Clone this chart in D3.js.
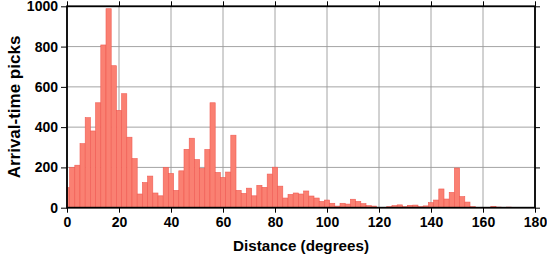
<!DOCTYPE html>
<html><head><meta charset="utf-8">
<script src="https://cdn.jsdelivr.net/npm/d3@7"></script>
<style>body{margin:0;background:#fff}svg{display:block}</style>
</head><body>
<svg id="c" width="547" height="258"></svg>
<script>
// Bin centres (degrees), bin width 2 degrees
const binCenters = d3.range(0, 181, 2);
const counts = [100,200,211,318,447,381,521,808,988,705,
  483,566,350,244,68,125,157,73,59,200,
  170,86,183,290,345,239,195,289,521,175,
  150,177,360,86,71,97,59,111,101,167,
  201,107,48,66,73,68,83,58,48,31,
  38,22,8,22,18,42,31,20,10,8,
  0,2,5,10,14,5,12,13,5,9,
  25,38,93,43,76,197,55,28,5,0,
  0,2,7,3,0,3,0,0,0,0,0];
const xTicks = [0,20,40,60,80,100,120,140,160,180];
const yTicks = [0,200,400,600,800,1000];
const binWidth = 2;

const svg = d3.select('#c');
const L = 67, R = 535, T = 6.3, B = 207.7;
const x = d3.scaleLinear().domain([0,180]).range([L,R]);
const y = d3.scaleLinear().domain([0,1000]).range([B,T]);
const font = '"Liberation Sans", Arial, Helvetica, sans-serif';

// grid
const g = svg.append('g');
g.selectAll('.gx').data(xTicks).join('line')
  .attr('x1', d=>x(d)).attr('x2', d=>x(d)).attr('y1', T).attr('y2', B)
  .attr('stroke', '#9a9a9a').attr('stroke-width', 0.9);
g.selectAll('.gy').data(yTicks).join('line')
  .attr('x1', L).attr('x2', R).attr('y1', d=>y(d)).attr('y2', d=>y(d))
  .attr('stroke', '#9a9a9a').attr('stroke-width', 0.9);

// bars
const bins = binCenters.map((c,i)=>({x0:Math.max(0,c-binWidth/2), x1:Math.min(180,c+binWidth/2), v:counts[i]}));
svg.append('g').selectAll('rect').data(bins.filter(d=>d.v>0)).join('rect')
  .attr('x', d=>x(d.x0)).attr('width', d=>x(d.x1)-x(d.x0))
  .attr('y', d=>y(d.v)).attr('height', d=>y(0)-y(d.v))
  .attr('fill', '#fa8072').attr('stroke', '#f05a52').attr('stroke-width', 0.6);

// axes with outward ticks
const fmt = d3.format('d');
const axB = svg.append('g').attr('transform', `translate(0,${B})`)
  .call(d3.axisBottom(x).tickValues(xTicks).tickSize(5).tickPadding(4).tickFormat(fmt));
const axT = svg.append('g').attr('transform', `translate(0,${T})`)
  .call(d3.axisTop(x).tickValues(xTicks).tickSize(5).tickFormat(''));
const axL = svg.append('g').attr('transform', `translate(${L},0)`)
  .call(d3.axisLeft(y).tickValues(yTicks).tickSize(6).tickPadding(3).tickFormat(fmt));
const axR = svg.append('g').attr('transform', `translate(${R},0)`)
  .call(d3.axisRight(y).tickValues(yTicks).tickSize(5).tickFormat(''));
[axB,axT,axL,axR].forEach(a=>{
  a.select('.domain').remove();
  a.selectAll('.tick line').attr('stroke','#000').attr('stroke-width',1);
  a.selectAll('.tick text').attr('font-family', font).attr('font-weight','bold')
    .attr('font-size', 14).attr('fill','#000');
});

// frame
svg.append('rect').attr('x', L).attr('y', T).attr('width', R-L).attr('height', B-T)
  .attr('fill','none').attr('stroke','#000').attr('stroke-width',1.8);

// titles
svg.append('text').attr('x', (L+R)/2).attr('y', 251).attr('text-anchor','middle')
  .attr('font-family', font).attr('font-weight','bold').attr('font-size', 15.2)
  .text('Distance (degrees)');
svg.append('text').attr('transform', `translate(20,${(T+B)/2}) rotate(-90)`)
  .attr('text-anchor','middle')
  .attr('font-family', font).attr('font-weight','bold').attr('font-size', 17)
  .text('Arrival-time picks');
</script>
</body></html>
